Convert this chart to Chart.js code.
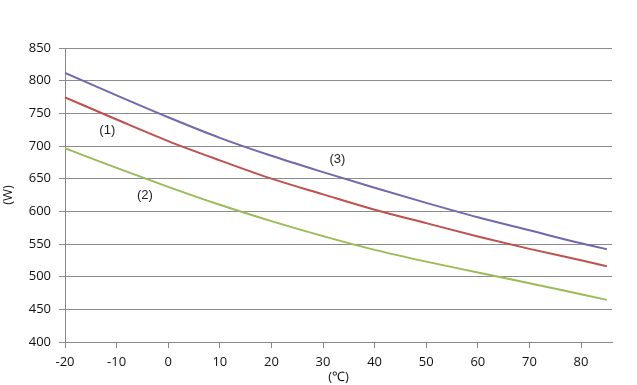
<!DOCTYPE html>
<html>
<head>
<meta charset="utf-8">
<script src="https://cdn.jsdelivr.net/npm/chart.js@4"></script>
<style>
  html, body { margin: 0; padding: 0; background: #fff; }
  #wrap { width: 637px; height: 385px; position: relative; }
</style>
</head>
<body>
<div id="wrap"><canvas id="chart"></canvas></div>
<script>
// temperature (°C) and power (W)
const temps = [-20, -10, 0, 10, 20, 30, 40, 50, 60, 70, 80, 85];
const line1 = [774.5, 740.5, 707.5, 678, 650, 626, 602.5, 582, 561.5, 542.5, 525, 516];
const line2 = [696.5, 666.5, 637.5, 610, 585, 562, 541, 523, 506.5, 490, 473, 464.5];
const line3 = [812, 777.5, 744, 712.5, 685, 660, 636, 613, 591, 571, 551, 542];
const labels = [
  { text: '(1)', x: -11.8, y: 724 },
  { text: '(2)', x: -4.5, y: 625 },
  { text: '(3)', x: 32.8, y: 680 },
];

const toPoints = (ys) => temps.map((t, i) => ({ x: t, y: ys[i] }));

const lineLabels = {
  id: 'lineLabels',
  afterDatasetsDraw(chart) {
    const { ctx, scales } = chart;
    ctx.save();
    ctx.font = '13px "Liberation Sans", Arial, sans-serif';
    ctx.fillStyle = '#222';
    ctx.textAlign = 'center';
    ctx.textBaseline = 'middle';
    labels.forEach((l) => {
      ctx.fillText(l.text, scales.x.getPixelForValue(l.x), scales.y.getPixelForValue(l.y));
    });
    ctx.restore();
  },
};

const font = { family: '"Open Sans", "Liberation Sans", Arial, sans-serif', size: 13 };

new Chart(document.getElementById('chart'), {
  type: 'line',
  data: {
    datasets: [
      { label: '(1)', data: toPoints(line1), borderColor: '#c0504d' },
      { label: '(2)', data: toPoints(line2), borderColor: '#9bbb59' },
      { label: '(3)', data: toPoints(line3), borderColor: '#7566ae' },
    ],
  },
  options: {
    responsive: true,
    maintainAspectRatio: false,
    animation: false,
    datasets: {
      line: { borderWidth: 2, pointRadius: 0, cubicInterpolationMode: 'monotone' },
    },
    layout: { padding: { top: 48, right: 25, left: 0, bottom: 0 } },
    plugins: { legend: { display: false }, tooltip: { enabled: false } },
    scales: {
      x: {
        type: 'linear',
        min: -20,
        max: 86,
        afterFit: (s) => { s.height = 43; },
        afterBuildTicks: (s) => { s.ticks = s.ticks.filter((t) => t.value % 10 === 0); },
        ticks: { stepSize: 10, color: '#111', font, padding: 6, maxRotation: 0 },
        grid: { drawOnChartArea: false, color: '#888', tickLength: 6 },
        border: { color: '#888', width: 1 },
        title: { display: true, text: '(℃)', color: '#111', font, padding: { top: -9, bottom: 0 } },
      },
      y: {
        min: 400,
        max: 850,
        afterFit: (s) => { s.width = 65; },
        ticks: { stepSize: 50, color: '#111', font, padding: 8 },
        grid: { color: '#8c8c8c', tickLength: 6 },
        border: { color: '#888', width: 1 },
        title: { display: true, text: '(W)', color: '#111', font, padding: 0 },
      },
    },
  },
  plugins: [lineLabels],
});
</script>
</body>
</html>
